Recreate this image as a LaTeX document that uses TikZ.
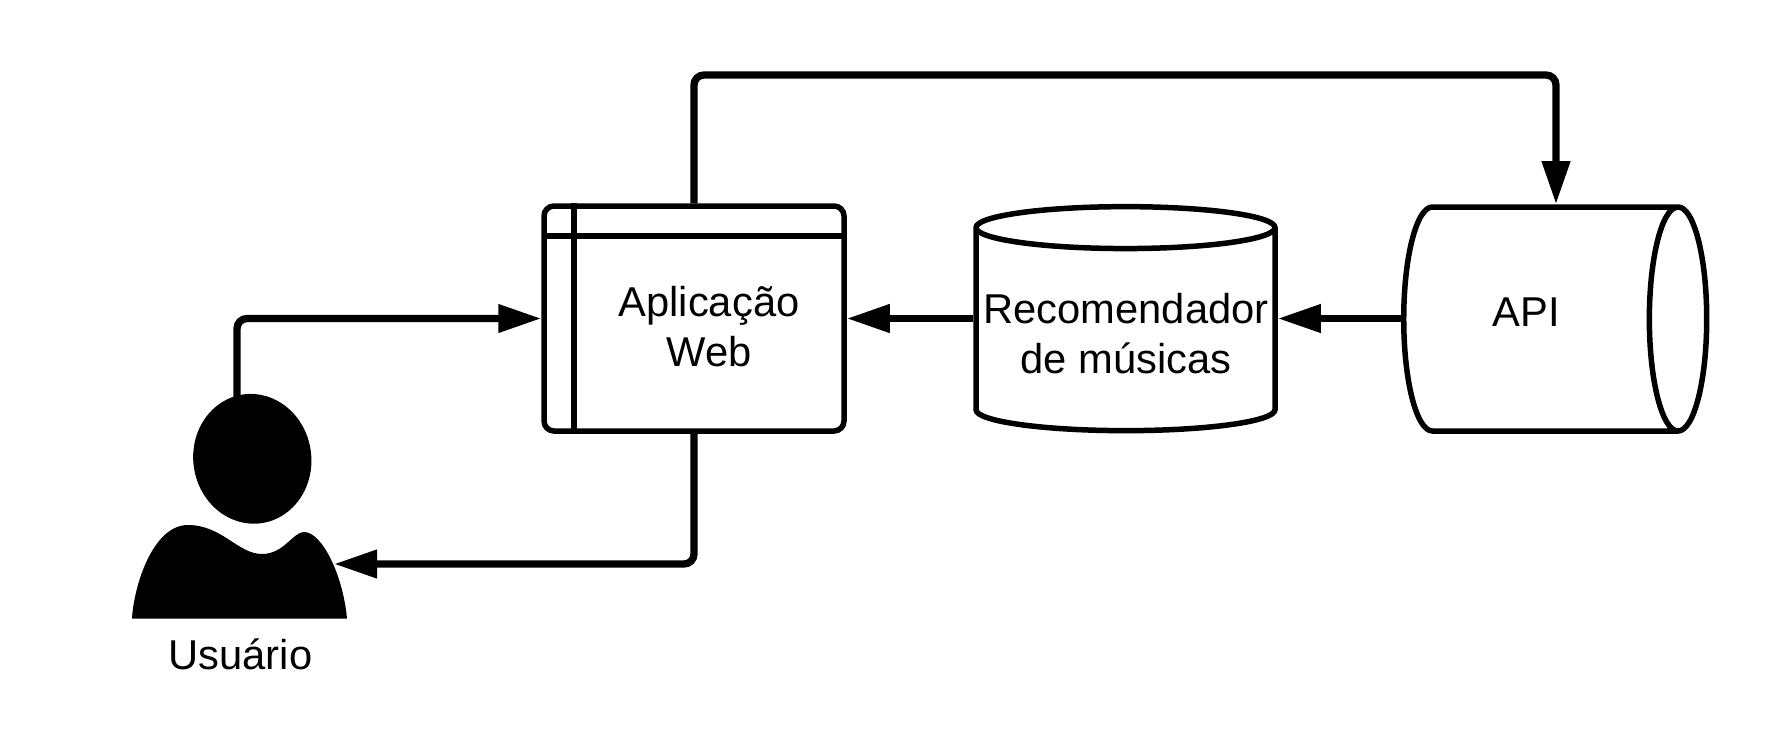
\documentclass[tikz,border=0pt]{standalone}
\usepackage{fontspec}
\setmainfont{Liberation Sans}
\usepackage{xcolor}
\usetikzlibrary{arrows.meta}
\usetikzlibrary{shapes.geometric}

\tikzset{
    shapeline/.style={draw, line width=5.5pt},
    label text/.style={font=\fontsize{41.7}{50}\selectfont, align=center},
    link/.style={line width=7.3pt, rounded corners=10pt, -{Triangle[length=43pt,width=27pt]}},
}

\begin{document}
\begin{tikzpicture}[x=1pt, y=-1pt]
    \useasboundingbox (0,0) rectangle (1781,750);

    \node[shapeline, rounded corners=10pt, minimum width=300pt, minimum height=225pt] (app) at (694,318.5) {};
    \node[label text] (appText) at (709,327) {Aplicação\\Web};
    \node[shapeline, label text, cylinder, shape border rotate=90, aspect=0.147, minimum width=299pt, minimum height=224pt, inner sep=0pt] (db) at (1125.5,330.5) {\phantom{Recomendador}\\\phantom{de músicas}};
    \node[label text] (dbText) at (1126,333.5) {Recomendador\\de músicas};
    \node[shapeline, label text, cylinder, aspect=2, minimum width=224pt, minimum height=303pt, inner sep=0pt] (api) at (1539.5,319) {\phantom{API}};
    \node[label text] (apiText) at (1526,312) {API};

    \coordinate (userOut) at (237,400);
    \coordinate (userIn) at (334,564);
    \coordinate (topBend) at (1556,75);

    \draw[link] (userOut) |- (app.west);
    \draw[link] (app.south) |- (userIn);
    \draw[link] (app.north) |- (topBend) -- (topBend |- api.north);
    \draw[link] (app.east -| db.west) -- (app.east);
    \draw[link] (app.east -| api.west) -- (app.east -| db.east);

    \draw[line width=5.5pt] (544,236) -- (844,236);
    \draw[line width=5.5pt] (574,0 |- app.north) -- (574,0 |- app.south);

    \node[ellipse, fill=black, inner sep=0pt, minimum width=118pt, minimum height=130pt, rotate=8] (head) at (252.3,458.8) {};
    \fill (132,618.5) .. controls (134,585) and (153,525) .. (188,525)
        .. controls (222,525) and (238,554) .. (262,554)
        .. controls (284,554) and (293,532) .. (304,532)
        .. controls (322,532) and (343,575) .. (347,618.5) -- cycle;
    \node[label text] (userText) at (240.5,654) {Usuário};
\end{tikzpicture}
\end{document}
